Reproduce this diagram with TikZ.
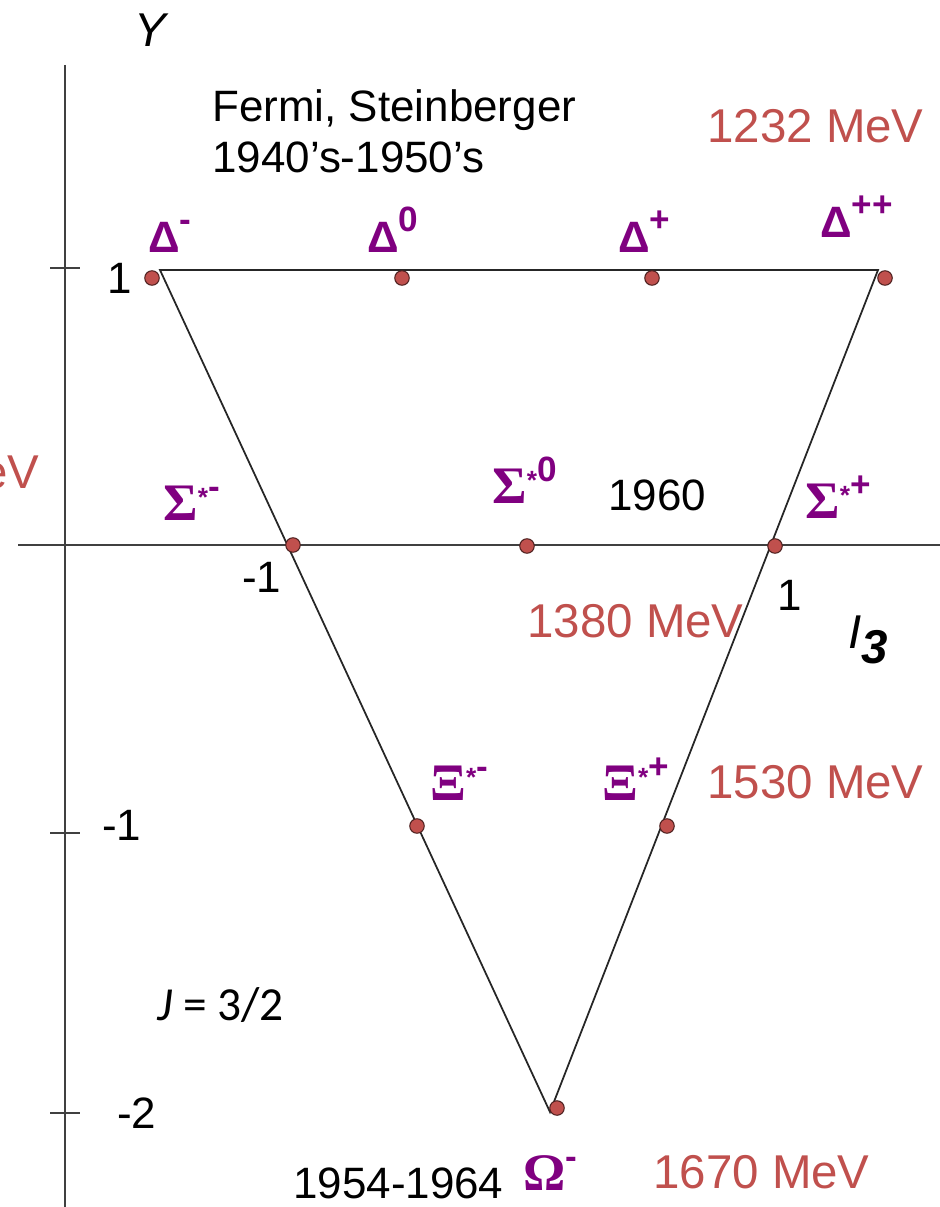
\documentclass[tikz,border=0pt]{standalone}
\usepackage{fontspec}
\setmainfont{Liberation Sans}
\newfontfamily\grk{Liberation Serif}
\newfontfamily\jfont{Carlito}
\definecolor{mass}{RGB}{192,80,77}
\definecolor{ptcl}{RGB}{128,0,128}
\newcommand{\dsup}[1]{\raisebox{0.5em}{\fontsize{20}{20}\selectfont\bfseries #1}}
\newcommand{\ssup}[1]{\raisebox{0.3em}{\fontsize{15}{15}\selectfont\bfseries *}\dsup{#1}}
\newcommand{\gk}[1]{{\grk\fontsize{30}{30}\selectfont #1}}

\begin{document}
\begin{tikzpicture}[x=0.2mm,y=-0.2mm,
 dot/.style={circle,draw=black!60!mass,fill=mass,line width=0.6pt,minimum size=2.9mm,inner sep=0pt},
 txt/.style={inner sep=0pt,anchor=base west,font=\fontsize{25}{30}\selectfont},
 mev/.style={txt,text=mass,font=\fontsize{27}{32}\selectfont},
 lbl/.style={txt,text=ptcl,font=\fontsize{25}{28}\selectfont\bfseries},
 axis/.style={line width=1.2pt,black!75},
 side/.style={line width=1pt,black!85}]
\useasboundingbox (0,0) rectangle (940,1207);
\coordinate (ytop) at (65,65);
\coordinate (ybot) at (65,1207);
\coordinate (xleft) at (18,545);
\coordinate (xright) at (940,545);
\draw[axis] (ytop) -- (ybot);
\draw[axis] (xleft) -- (xright);
\foreach \ty in {268,833,1113}
  \draw[axis] (50,\ty) -- (80,\ty);
\coordinate (tl) at (160,270);
\coordinate (tr) at (878,270);
\coordinate (bt) at (550,1112);
\draw[side] (tl) -- (tr) -- (bt) -- cycle;
\node[dot] (dm) at (152,278) {};
\node[dot] (dz) at (402,278) {};
\node[dot] (dp) at (652,278) {};
\node[dot] (dpp) at (885,278) {};
\node[dot] (sm) at (293,545) {};
\node[dot] (sz) at (527,546) {};
\node[dot] (sp) at (775,546) {};
\node[dot] (xm) at (417,826) {};
\node[dot] (xp) at (667,826) {};
\node[dot] (om) at (557,1108) {};
\node[txt,anchor=base,font=\fontsize{27}{30}\selectfont\itshape] (yname) at (150,47) {Y};
\node[txt,font=\fontsize{27}{30}\selectfont\itshape] (iname) at (848,648) {I\raisebox{-0.32em}{\bfseries 3}};
\node[txt] (fermi) at (212,122) {Fermi, Steinberger};
\node[txt] (fermiyr) at (212,173) {1940’s-1950’s};
\node[mev] (mdelta) at (707,143) {1232 MeV};
\node[mev,anchor=base east] (mcut) at (40,488) {eV};
\node[mev] (msigma) at (527,637) {1380 MeV};
\node[mev] (mxi) at (707,798) {1530 MeV};
\node[mev] (momega) at (653,1188) {1670 MeV};
\node[lbl] (ldm) at (148,253) {Δ\dsup{-}};
\node[lbl] (ldz) at (367,253) {Δ\dsup{0}};
\node[lbl] (ldp) at (618,253) {Δ\dsup{+}};
\node[lbl] (ldpp) at (820,238) {Δ\dsup{++}};
\node[lbl] (lsm) at (163,520) {\gk{Σ}\ssup{-}};
\node[lbl] (lsz) at (492,503) {\gk{Σ}\ssup{0}};
\node[lbl] (lsp) at (805,518) {\gk{Σ}\ssup{+}};
\node[lbl] (lxm) at (430,800) {\gk{Ξ}\ssup{-}};
\node[lbl] (lxp) at (602,800) {\gk{Ξ}\ssup{+}};
\node[lbl] (lom) at (523,1190) {\gk{Ω}\dsup{-}};
\node[txt] (tyone) at (107,293) {1};
\node[txt] (tymone) at (102,840) {-1};
\node[txt] (tymtwo) at (117,1128) {-2};
\node[txt] (txmone) at (242,592) {-1};
\node[txt] (txone) at (777,610) {1};
\node[txt] (ysixty) at (608,510) {1960};
\node[txt] (yomega) at (293,1198) {1954-1964};
\node[txt,font=\fontsize{27}{30}\jfont] (spin) at (157,1020) {{\itshape J} = 3/2};
\end{tikzpicture}
\end{document}
